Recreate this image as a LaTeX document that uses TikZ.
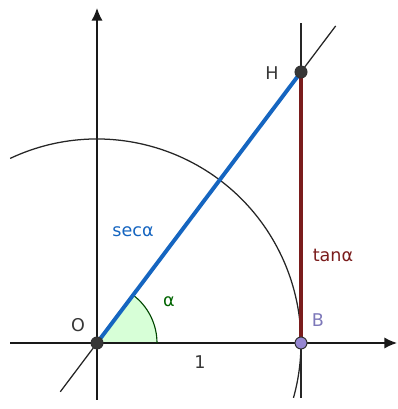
\documentclass[tikz,border=0pt]{standalone}
\usepackage{fontspec}
\setmainfont{DejaVu Sans}
\usetikzlibrary{arrows.meta,calc}
\definecolor{secblue}{RGB}{21,101,192}
\definecolor{tanred}{RGB}{122,28,28}
\definecolor{anggreen}{RGB}{0,100,0}
\definecolor{ptgray}{RGB}{55,55,55}
\definecolor{ptviolet}{RGB}{150,135,210}
\definecolor{lblviolet}{RGB}{125,120,185}
\begin{document}
\begin{tikzpicture}[x=0.025cm, y=0.025cm, font=\fontsize{12.5}{14}\selectfont, >={Latex[length=9pt,width=8pt]},
    axisline/.style={->, line width=1pt, black!90},
    thinline/.style={line width=0.9pt, black!85},
    secline/.style={line width=2.8pt, secblue},
    tanline/.style={line width=2.8pt, tanred},
    ptdot/.style={draw=black!80, line width=0.7pt, fill=ptgray},
    lbl/.style={inner sep=0pt}]
  \useasboundingbox (0,0) rectangle (398,409);
  \coordinate (O) at (97,66);
  \coordinate (B) at (301,66);
  \coordinate (H) at (301,337);
  \coordinate (xl) at (10,66);
  \coordinate (xr) at (397,66);
  \coordinate (yb) at (97,9);
  \coordinate (yt) at (97,401);
  \fill[green!45!white, opacity=0.35] (O) -- ++(60,0) arc[start angle=0, end angle=53, radius=60] -- cycle;
  \draw[axisline] (xl) -- (xr);
  \draw[axisline] (yb) -- (yt);
  \draw[thinline] (O) ++(115.2:204) arc[start angle=115.2, end angle=-15.6, radius=204];
  \draw[thinline] ($(O)!-0.18!(H)$) -- ($(H)!-0.17!(O)$);
  \draw[thinline] ($(B)+(0,-55)$) -- ($(H)+(0,49)$);
  \draw[anggreen!70!black, line width=0.8pt] ($(O)+(60,0)$) arc[start angle=0, end angle=53, radius=60];
  \draw[secline] (O) -- (H);
  \draw[tanline] (B) -- (H);
  \foreach \p in {O,H} \draw[ptdot] (\p) circle (6);
  \draw[ptdot, fill=ptviolet] (B) circle (6);
  \node[lbl, text=ptgray] (lO) at (78,84) {O};
  \node[lbl, text=lblviolet] (lB) at (318,89) {B};
  \node[lbl, text=ptgray] (lH) at (272,336) {H};
  \node[lbl, text=ptgray] (l1) at (200,47) {1};
  \node[lbl, text=anggreen] (la) at (169,107) {α};
  \node[lbl, text=secblue] (lsec) at (133,177) {secα};
  \node[lbl, text=tanred] (ltan) at (333,154) {tanα};
\end{tikzpicture}
\end{document}
